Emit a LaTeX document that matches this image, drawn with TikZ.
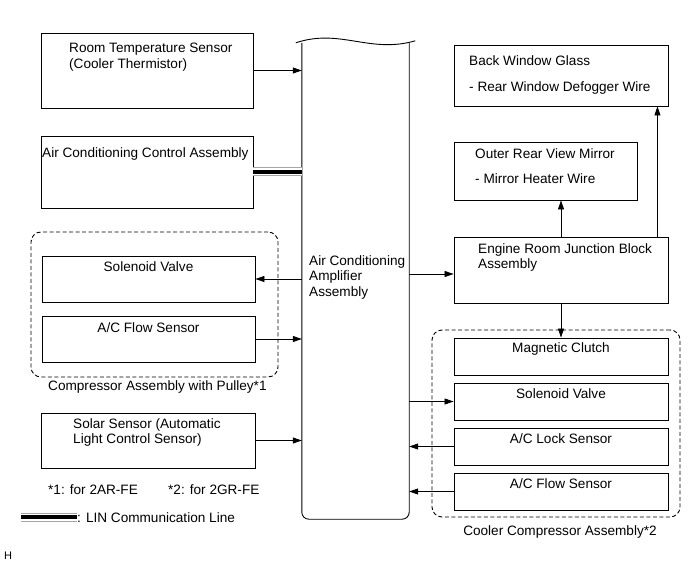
\documentclass[tikz,border=0pt]{standalone}
\usepackage{fontspec}
\setmainfont{Liberation Sans}
\usetikzlibrary{positioning,arrows.meta,fit}
\tikzset{
  blk/.style={draw, line width=0.9pt, inner sep=0pt},
  grp/.style={draw, line width=0.9pt, dash pattern=on 4pt off 2.5pt, rounded corners=10pt, inner sep=0pt},
  txt/.style={font=\fontsize{13.6}{15.5}\selectfont, inner sep=0pt, align=left},
  arr/.style={-{Triangle[length=9pt,width=6pt]}, line width=0.8pt},
  lin/.style={line width=4pt, black,
              preaction={draw=white, line width=7pt,
                         preaction={draw=gray!70, line width=9pt}}}
}

\begin{document}
\begin{tikzpicture}[x=1pt, y=-1pt]
    \useasboundingbox (0,0) rectangle (691,564);
    % amplifier column
    \node[inner sep=0pt, fit={(302,43) (409,519)}] (amp) {};
    \draw[line width=0.9pt, rounded corners=7pt] (amp.north west) -- (amp.south west) -- (amp.south east) -- (amp.north east);
    \draw[line width=0.9pt] ([xshift=-6pt]amp.north west) .. controls (340,28) and (370,54) .. ([xshift=6pt,yshift=2pt]amp.north east);
    \node[txt, anchor=north west] (ampT) at (309,255) {Air Conditioning\\Amplifier\\Assembly};
    % left side
    \node[blk, fit={(41,33) (253,108)}] (rts) {};
    \node[txt, anchor=north west] (rtsT) at (69,43) {Room Temperature Sensor\\(Cooler Thermistor)};
    \node[blk, fit={(41,136) (253,208)}] (acc) {};
    \node[txt, anchor=north west] (accT) at (42,147) {Air Conditioning Control Assembly};
    \node[grp, fit={(31,232) (278,377)}] (cmp) {};
    \node[txt, anchor=base west] (cmpT) at (48,390) {Compressor Assembly with Pulley*1};
    \node[blk, fit={(42,256) (255,302)}] (sol1) {};
    \node[txt, anchor=base] (sol1T) at (148.5,272) {Solenoid Valve};
    \node[blk, fit={(42,316) (255,362)}] (flw1) {};
    \node[txt, anchor=base] (flw1T) at (148.5,332) {A/C Flow Sensor};
    \node[blk, fit={(41,413) (255,468)}] (sol) {};
    \node[txt, anchor=north west] (solT) at (73,418) {Solar Sensor (Automatic\\Light Control Sensor)};
    \node[txt, anchor=base west] (nt1) at (48,494) {*1: for 2AR-FE};
    \node[txt, anchor=base west] (nt2) at (168,494) {*2: for 2GR-FE};
    \node[txt, anchor=base west] (linT) at (77,522) {: LIN Communication Line};
    \coordinate (linA) at (21,517);
    \node[txt, anchor=base west, font=\fontsize{11}{12}\selectfont] (hT) at (4,559) {H};
    % right side
    \node[blk, fit={(454,45) (668,106)}] (bwg) {};
    \node[txt, anchor=north west] (bwgT) at (469,55) {Back Window Glass\\[10.5pt]- Rear Window Defogger Wire};
    \node[blk, fit={(454,142) (637,200)}] (orm) {};
    \node[txt, anchor=north west] (ormT) at (475,148) {Outer Rear View Mirror\\[9.5pt]- Mirror Heater Wire};
    \node[blk, fit={(454,237) (668,303)}] (erj) {};
    \node[txt, anchor=north west] (erjT) at (478,243) {Engine Room Junction Block\\Assembly};
    \node[grp, fit={(432,330) (680,517)}] (ccg) {};
    \node[txt, anchor=base] (ccgT) at (560,535) {Cooler Compressor Assembly*2};
    \node[blk, fit={(454,338) (668,375)}] (mcl) {};
    \node[txt, anchor=base] (mclT) at (561,352) {Magnetic Clutch};
    \node[blk, fit={(454,383) (668,420)}] (sol2) {};
    \node[txt, anchor=base] (sol2T) at (561,398) {Solenoid Valve};
    \node[blk, fit={(454,428) (668,465)}] (lck) {};
    \node[txt, anchor=base] (lckT) at (561,443) {A/C Lock Sensor};
    \node[blk, fit={(454,473) (668,510)}] (flw2) {};
    \node[txt, anchor=base] (flw2T) at (561,488) {A/C Flow Sensor};
    % connectors
    \draw[arr] (rts.east) -- (rts.east -| amp.west);
    \draw[lin] (acc.east) -- (acc.east -| amp.west);
    \draw[lin] (linA) -- (linT.west |- linA);
    \draw[arr] (sol1.east -| amp.west) -- (sol1.east);
    \draw[arr] (flw1.east) -- (flw1.east -| amp.west);
    \draw[arr] (sol.east) -- (sol.east -| amp.west);
    \coordinate (erjIn) at ([yshift=-4pt]erj.west);
    \draw[arr] (erjIn -| amp.east) -- (erjIn);
    \draw[arr] (erj.north) -- (erj.north |- orm.south);
    \coordinate (erjUp) at ([xshift=-11pt]erj.north east);
    \draw[arr] (erjUp) -- (erjUp |- bwg.south);
    \draw[arr] (erj.south) -- (erj.south |- mcl.north);
    \draw[arr] (sol2.west -| amp.east) -- (sol2.west);
    \draw[arr] (lck.west) -- (lck.west -| amp.east);
    \draw[arr] (flw2.west) -- (flw2.west -| amp.east);
  \end{tikzpicture}
\end{document}
